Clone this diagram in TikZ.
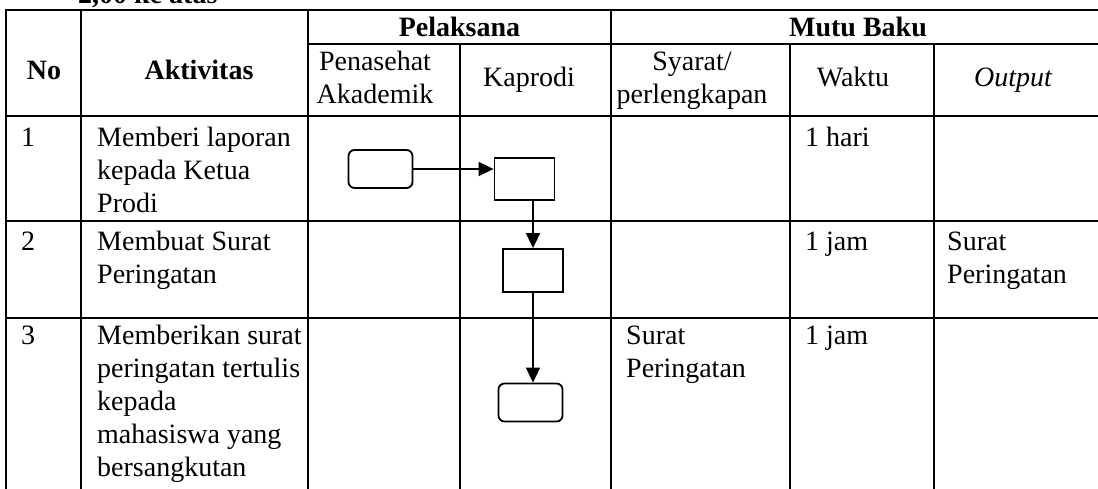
\documentclass[tikz,border=0pt]{standalone}
\usepackage{fontspec}
\setmainfont{Liberation Serif}
\usetikzlibrary{arrows.meta}
\begin{document}
\begin{tikzpicture}[x=1pt,y=-1pt,
  grid/.style={line width=1.8pt},
  txt/.style={font=\fontsize{28}{33}\selectfont, inner sep=0pt, align=left, anchor=north west},
  hdr/.style={font=\fontsize{28}{33}\selectfont\bfseries, inner sep=0pt, align=center},
  sub/.style={font=\fontsize{28}{33}\selectfont, inner sep=0pt, align=center},
  term/.style={draw, line width=1.8pt, rounded corners=6pt, minimum width=64pt, minimum height=38pt, inner sep=0pt},
  proc/.style={draw, line width=1.8pt, minimum width=60pt, minimum height=42pt, inner sep=0pt},
  flow/.style={line width=1.8pt, -{Triangle[length=15pt,width=14pt]}}]
\useasboundingbox (0,0) rectangle (1098,489);
\clip (0,0) rectangle (1098,489);

% top caption (cut off)
\node[font=\fontsize{28}{33}\selectfont\bfseries, inner sep=0pt, anchor=base west] (cap) at (78,3.5) {2,00 ke atas};

% grid
\draw[grid] (6,10) -- (1106,10);
\draw[grid] (308,44) -- (1106,44);
\draw[grid] (6,116) -- (1106,116);
\draw[grid] (6,221) -- (1106,221);
\draw[grid] (6,318) -- (1106,318);
\foreach \x in {6,81,308,611,1105} \draw[grid] (\x,9.1) -- (\x,495);
\foreach \x in {460,790,934} \draw[grid] (\x,44) -- (\x,495);

% header
\node[hdr] (hno) at (44,73) {\strut No};
\node[hdr] (hakt) at (199,73) {\strut Aktivitas};
\node[hdr] (hpel) at (459.5,30.4) {\strut Pelaksana};
\node[hdr] (hmutu) at (858,30.4) {\strut Mutu Baku};
\node[sub] (hpa) at (375,80) {\strut Penasehat\\\strut Akademik};
\node[sub] (hkap) at (529,80) {\strut Kaprodi};
\node[sub] (hsya) at (692,80) {\strut Syarat/\\\strut perlengkapan};
\node[sub] (hwak) at (853,80) {\strut Waktu};
\node[sub] (hout) at (1013,80) {\strut\itshape Output};

% row 1
\node[txt] (n1) at (21,122.9) {\strut 1};
\node[txt] (a1) at (97,122.9) {\strut Memberi laporan\\kepada Ketua\\Prodi};
\node[txt] (w1) at (805,122.9) {\strut 1 hari};
% row 2
\node[txt] (n2) at (21,226.9) {\strut 2};
\node[txt] (a2) at (97,226.9) {\strut Membuat Surat\\Peringatan};
\node[txt] (w2) at (805,226.9) {\strut 1 jam};
\node[txt] (o2) at (947,226.9) {\strut Surat\\Peringatan};
% row 3
\node[txt] (n3) at (21,320.9) {\strut 3};
\node[txt] (a3) at (97,320.9) {\strut Memberikan surat\\peringatan tertulis\\kepada\\mahasiswa yang\\bersangkutan};
\node[txt] (s3) at (626,320.9) {\strut Surat\\Peringatan};
\node[txt] (w3) at (805,320.9) {\strut 1 jam};

% flow shapes
\node[term] (r1) at (380.5,169) {};
\node[proc] (b1) at (524.5,179) {};
\node[proc, minimum height=43pt] (b2) at (533,270.5) {};
\node[term] (r2) at (530.5,402.5) {};

\draw[flow] (r1.east) -- (r1.east -| b1.west);
\draw[flow] (b2.north |- b1.south) -- (b2.north);
\draw[flow] (b2.south) -- (b2.south |- r2.north);
\end{tikzpicture}
\end{document}
